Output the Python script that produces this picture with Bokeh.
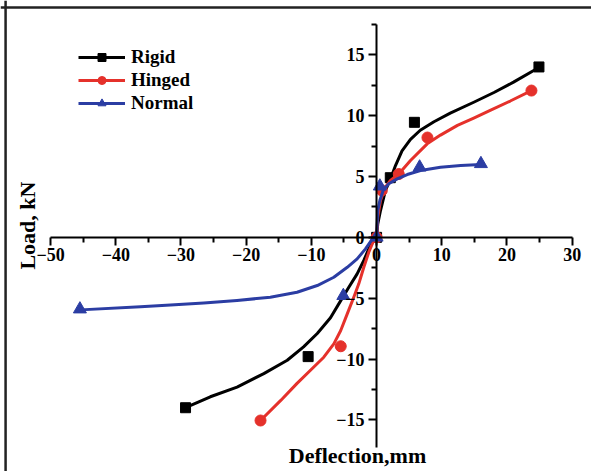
import math
from bokeh.plotting import figure
from bokeh.models import Range1d, Label, Legend, LegendItem, Span, FixedTicker
from bokeh.embed import file_html
from bokeh.resources import INLINE

# ---- data ----
x_ticks = [-50, -40, -30, -20, -10, 0, 10, 20, 30]
x_minor = [-45, -35, -25, -15, -5, 5, 15, 25]
y_ticks = [-15, -10, -5, 0, 5, 10, 15]
y_minor = [-12.5, -7.5, -2.5, 2.5, 7.5, 12.5, 17.5]

# measured points
rigid_x = [-29.3, -10.5, 0.0, 2.1, 5.8, 24.9]
rigid_y = [-14.0, -9.8, 0.0, 4.9, 9.45, 14.0]
hinged_x = [-17.8, -5.5, 0.0, 0.8, 3.4, 7.8, 23.75]
hinged_y = [-15.05, -8.95, 0.0, 3.85, 5.2, 8.2, 12.06]
normal_x = [-45.5, -5.1, 0.0, 0.5, 6.6, 16.0]
normal_y = [-5.9, -4.8, 0.0, 4.2, 5.76, 6.04]

# fitted curves
rigid_fit_x = [-29.3, -25.5, -21.4, -17.3, -13.7, -11.2, -9.1, -7.07, -5.5, -4.26, -2.98, -1.96,
               -1.2, -0.5, 0.0, 0.18, 0.6, 1.36, 2.13, 2.9, 3.9, 5.2, 6.7, 8.8, 11.3, 14.9,
               18.0, 21.0, 24.9]
rigid_fit_y = [-14.0, -13.1, -12.3, -11.2, -10.1, -9.0, -7.9, -6.6, -5.2, -4.1, -3.0, -1.9,
               -0.95, -0.3, 0.0, 1.1, 2.2, 3.85, 4.8, 5.9, 7.1, 8.05, 8.8, 9.5, 10.2, 11.1,
               11.9, 12.75, 13.95]
hinged_fit_x = [-17.8, -14.7, -12.2, -10.1, -8.1, -6.56, -5.5, -4.5, -3.5, -2.73, -1.96, -1.2,
                -0.4, 0.0, 0.18, 0.6, 1.36, 2.13, 3.4, 5.2, 7.76, 9.8, 12.4, 14.9, 17.5,
                20.5, 23.75]
hinged_fit_y = [-15.05, -13.4, -12.0, -10.9, -9.85, -8.75, -7.66, -6.29, -4.92, -3.82, -2.46,
                -1.22, -0.2, 0.0, 1.65, 3.02, 4.12, 4.67, 5.2, 6.31, 7.68, 8.4, 9.2, 9.8,
                10.45, 11.2, 12.06]
normal_fit_x = [-45.4, -36.2, -31.6, -26.5, -21.4, -16.3, -12.2, -9.1, -6.56, -4.5, -2.98,
                -1.7, -0.67, 0.0, 0.18, 0.5, 1.0, 1.87, 3.16, 4.7, 6.73, 9.8, 12.9, 16.0]
normal_fit_y = [-5.96, -5.7, -5.55, -5.4, -5.19, -4.92, -4.51, -3.96, -3.28, -2.46, -1.77,
                -0.95, -0.15, 0.0, 2.2, 3.02, 3.85, 4.4, 4.8, 5.16, 5.49, 5.76, 5.9, 5.98]

series_names = ["Rigid", "Hinged", "Normal"]
colors = ["#000000", "#E5312B", "#2B3DA3"]
markers = ["square", "circle", "triangle"]

FONT = "Liberation Serif"

p = figure(width=591, height=471, output_backend="svg", toolbar_location=None,
           x_range=Range1d(-57.68, 32.96), y_range=Range1d(-19.24, 19.46),
           min_border=0)
p.grid.visible = False
p.outline_line_color = None
p.background_fill_color = "white"
p.border_fill_color = "white"

for ax in (p.xaxis[0], p.yaxis[0]):
    ax.fixed_location = 0
    ax.axis_line_width = 2
    ax.axis_line_color = "black"
    ax.major_tick_line_width = 2
    ax.minor_tick_line_width = 2
    ax.major_tick_line_color = "black"
    ax.minor_tick_line_color = "black"
    ax.major_tick_in = 0
    ax.major_tick_out = 8
    ax.minor_tick_in = 0
    ax.minor_tick_out = 5
    ax.major_label_text_font = FONT
    ax.major_label_text_font_style = "bold"
    ax.major_label_text_font_size = "18px"
    ax.major_label_text_color = "black"
    ax.axis_label = None

p.xaxis[0].ticker = FixedTicker(ticks=x_ticks, minor_ticks=x_minor)
p.yaxis[0].ticker = FixedTicker(ticks=y_ticks, minor_ticks=y_minor)
p.xaxis[0].bounds = (-50, 30)
p.yaxis[0].bounds = (-17.25, 17.5)
p.xaxis[0].major_label_standoff = 3
p.yaxis[0].major_label_standoff = 4

fits = [(rigid_fit_x, rigid_fit_y), (hinged_fit_x, hinged_fit_y), (normal_fit_x, normal_fit_y)]
pts = [(rigid_x, rigid_y), (hinged_x, hinged_y), (normal_x, normal_y)]
sizes = [10, 11, 13]

items = []
for name, col, mk, (fx, fy), (px, py), sz in zip(series_names, colors, markers, fits, pts, sizes):
    lr = p.line(fx, fy, line_color=col, line_width=3, line_join="round")
    sr = p.scatter(px, py, marker=mk, size=sz, fill_color=col, line_color=col)
    items.append(LegendItem(label=name, renderers=[lr, sr]))

legend = Legend(items=items, location=(78, 357), padding=0, margin=0,
                border_line_alpha=0, background_fill_alpha=0,
                glyph_width=47, glyph_height=20, label_height=20, spacing=1,
                label_standoff=6,
                label_text_font=FONT, label_text_font_style="bold",
                label_text_font_size="19px", label_text_color="black")
p.add_layout(legend)

p.add_layout(Label(x=-2.93, y=-17.95, text="Deflection,mm", text_align="center",
                   text_baseline="alphabetic", text_font=FONT, text_font_style="bold",
                   text_font_size="22px", text_color="black"))
p.add_layout(Label(x=-53.5, y=0.97, text="Load, kN", angle=math.pi / 2,
                   text_align="center", text_baseline="middle", text_font=FONT,
                   text_font_style="bold", text_font_size="22px", text_color="black"))

p.add_layout(Span(location=18.88, dimension="width", line_color="#222222", line_width=2.5))
p.add_layout(Span(location=-56.9, dimension="height", line_color="#222222", line_width=2.5))

open("out.html", "w").write(file_html(p, INLINE))
